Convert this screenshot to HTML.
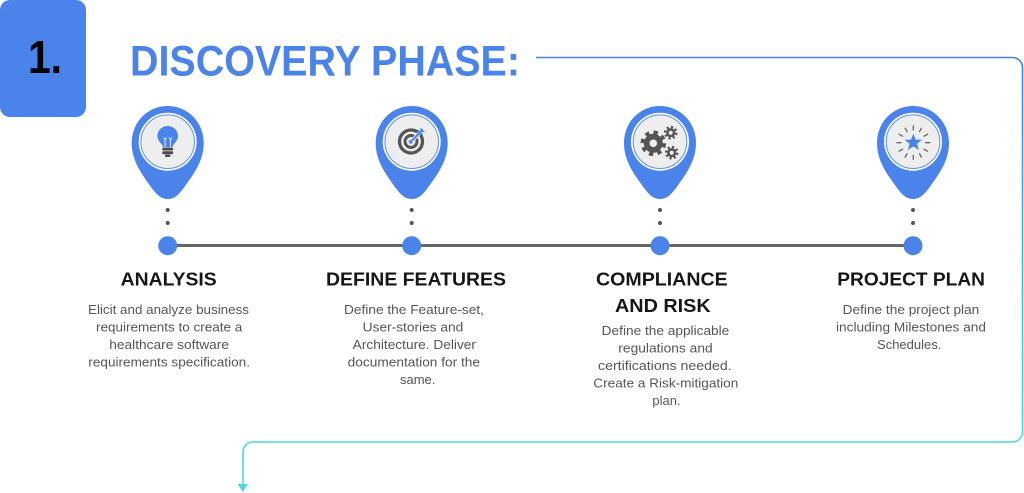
<!DOCTYPE html>
<html>
<head>
<meta charset="utf-8">
<style>
  html,body{margin:0;padding:0;background:#fff;}
  body{width:1024px;height:493px;overflow:hidden;}
  svg{display:block;}
  .h{font-family:"Liberation Sans",sans-serif;font-weight:bold;font-size:18px;fill:#161616;}
  .b{font-family:"Liberation Sans",sans-serif;font-size:13px;fill:#555;}
</style>
</head>
<body>
<svg width="1024" height="493" viewBox="0 0 1024 493" xmlns="http://www.w3.org/2000/svg">
  <defs>
    <linearGradient id="cg" gradientUnits="userSpaceOnUse" x1="0" y1="57" x2="0" y2="442">
      <stop offset="0" stop-color="#4a80ea"/>
      <stop offset="1" stop-color="#4dd8e0"/>
    </linearGradient>
    <path id="pin" d="M0,0 C20,0 36,16 36,37 C36,55 26,68 16,82 C10,90 6,93 0,93 C-6,93 -10,90 -16,82 C-26,68 -36,55 -36,37 C-36,16 -20,0 0,0Z"/>
  </defs>

  <!-- Number box -->
  <rect x="0" y="0" width="86" height="117" rx="10" ry="10" fill="#4a84eb"/>
  <text x="28" y="73" font-family="Liberation Sans, sans-serif" font-weight="bold" font-size="46" fill="#000" textLength="34" lengthAdjust="spacingAndGlyphs">1.</text>

  <!-- Title -->
  <text x="130" y="75.5" font-family="Liberation Sans, sans-serif" font-weight="bold" font-size="43" fill="#4a84eb" textLength="390" lengthAdjust="spacingAndGlyphs">DISCOVERY PHASE:</text>

  <!-- Connector -->
  <path d="M536,57.5 H1012.5 A10,10 0 0 1 1022.5,67.5 V432 A10,10 0 0 1 1012.5,442 H253 A10,10 0 0 0 243,452 V486" fill="none" stroke="url(#cg)" stroke-width="1.6"/>
  <polygon points="237.5,484 248,484 242.8,492" fill="#4dd8e0"/>

  <!-- Timeline line -->
  <line x1="167.7" y1="245.5" x2="913" y2="245.5" stroke="#666" stroke-width="3"/>

  <!-- Pins -->
  <g fill="#4a84eb">
    <use href="#pin" x="167.7" y="106"/>
    <use href="#pin" x="411.7" y="106"/>
    <use href="#pin" x="660" y="106"/>
    <use href="#pin" x="913" y="106"/>
  </g>
  <g>
    <circle cx="167.7" cy="141.7" r="29" fill="#fff"/>
    <circle cx="167.7" cy="141.7" r="26.8" fill="#eeeeee" stroke="#5a8ff0" stroke-width="1"/>
    <circle cx="411.7" cy="141.7" r="29" fill="#fff"/>
    <circle cx="411.7" cy="141.7" r="26.8" fill="#eeeeee" stroke="#5a8ff0" stroke-width="1"/>
    <circle cx="660" cy="141.7" r="29" fill="#fff"/>
    <circle cx="660" cy="141.7" r="26.8" fill="#eeeeee" stroke="#5a8ff0" stroke-width="1"/>
    <circle cx="913" cy="141.7" r="29" fill="#fff"/>
    <circle cx="913" cy="141.7" r="26.8" fill="#eeeeee" stroke="#5a8ff0" stroke-width="1"/>
  </g>

  <!-- Bulb icon -->
  <g>
    <path d="M167.7,126 C173.5,126 178,130.5 178,136 C178,140 175,142.5 173,145.5 L172.5,147 H162.9 L162.4,145.5 C160.4,142.5 157.4,140 157.4,136 C157.4,130.5 161.9,126 167.7,126Z" fill="#4a84eb"/>
    <path d="M165,147 V140 M170.4,147 V140 M165,140 L163.5,137.5 M165,140 L166.5,137.5 M170.4,140 L168.9,137.5 M170.4,140 L171.9,137.5" stroke="#e8eefc" stroke-width="0.9" fill="none"/>
    <rect x="162.2" y="147.5" width="11" height="3" rx="1.2" fill="#4d4d4d"/>
    <rect x="162.2" y="151.2" width="11" height="3" rx="1.2" fill="#4d4d4d"/>
    <rect x="165" y="154.6" width="5.4" height="2.4" rx="1" fill="#4d4d4d"/>
  </g>

  <!-- Target icon -->
  <g>
    <circle cx="411" cy="141.5" r="11.5" fill="none" stroke="#555" stroke-width="3.3"/>
    <circle cx="411" cy="141.5" r="6" fill="none" stroke="#555" stroke-width="3"/>
    <circle cx="411" cy="141.5" r="2.3" fill="#4a84eb"/>
    <line x1="411" y1="141.5" x2="420" y2="132.5" stroke="#eeeeee" stroke-width="4"/>
    <line x1="411" y1="141.5" x2="420" y2="132.5" stroke="#4a84eb" stroke-width="2"/>
    <polygon points="418,134.5 417.5,129 420,131.5" fill="#4a84eb"/>
    <polygon points="418,134.5 423.5,135 421,132.5" fill="#4a84eb"/>
    <polygon points="420,132.5 420.5,127.5 423,130" fill="#4a84eb"/>
    <polygon points="420,132.5 425,132 422.5,129.5" fill="#4a84eb"/>
  </g>

  <!-- Gears icon -->
  <g fill="#555">
    <circle cx="653.3" cy="143.3" r="9.5"/>
    <circle cx="653.3" cy="143.3" r="10.8" fill="none" stroke="#555" stroke-width="4" stroke-dasharray="4.2 4.28"/>
    <circle cx="653.3" cy="143.3" r="3.8" fill="#eeeeee"/>
    <circle cx="670.7" cy="132.7" r="4.6"/>
    <circle cx="670.7" cy="132.7" r="5.6" fill="none" stroke="#555" stroke-width="2.4" stroke-dasharray="2.2 2.2"/>
    <circle cx="670.7" cy="132.7" r="2" fill="#eeeeee"/>
    <circle cx="671.7" cy="152.7" r="4.6"/>
    <circle cx="671.7" cy="152.7" r="5.6" fill="none" stroke="#555" stroke-width="2.4" stroke-dasharray="2.2 2.2"/>
    <circle cx="671.7" cy="152.7" r="2" fill="#eeeeee"/>
  </g>

  <!-- Star icon -->
  <g>
    <g stroke="#666" stroke-width="1.3" stroke-linecap="round">
      <line x1="913.3" y1="130" x2="913.3" y2="126"/>
      <line x1="919.5" y1="131.7" x2="921.5" y2="128.2"/>
      <line x1="924" y1="136.2" x2="927.5" y2="134.2"/>
      <line x1="925.6" y1="142.7" x2="929.6" y2="142.7"/>
      <line x1="924" y1="149.2" x2="927.5" y2="151.2"/>
      <line x1="919.5" y1="153.7" x2="921.5" y2="157.2"/>
      <line x1="913.3" y1="155.4" x2="913.3" y2="159.4"/>
      <line x1="907.1" y1="153.7" x2="905.1" y2="157.2"/>
      <line x1="902.6" y1="149.2" x2="899.1" y2="151.2"/>
      <line x1="901" y1="142.7" x2="897" y2="142.7"/>
      <line x1="902.6" y1="136.2" x2="899.1" y2="134.2"/>
      <line x1="907.1" y1="131.7" x2="905.1" y2="128.2"/>
    </g>
    <polygon points="913.3,133.5 915.6,139.6 922,139.8 917,143.8 918.8,150 913.3,146.4 907.8,150 909.6,143.8 904.6,139.8 911,139.6" fill="#4a84eb"/>
  </g>

  <!-- Dots -->
  <g fill="#555">
    <circle cx="167.7" cy="210" r="2"/><circle cx="167.7" cy="223" r="2"/>
    <circle cx="411.7" cy="210" r="2"/><circle cx="411.7" cy="223" r="2"/>
    <circle cx="660" cy="210" r="2"/><circle cx="660" cy="223" r="2"/>
    <circle cx="913" cy="210" r="2"/><circle cx="913" cy="223" r="2"/>
  </g>

  <!-- Timeline nodes -->
  <g fill="#4a84eb">
    <circle cx="167.7" cy="245.7" r="9.5"/>
    <circle cx="411.7" cy="245.7" r="9.5"/>
    <circle cx="660" cy="245.7" r="9.5"/>
    <circle cx="913" cy="245.7" r="9.5"/>
  </g>

  <!-- Headings -->
  <text class="h" x="120.7" y="285.5" textLength="96" lengthAdjust="spacingAndGlyphs">ANALYSIS</text>
  <text class="h" x="326" y="285.5" textLength="180" lengthAdjust="spacingAndGlyphs">DEFINE FEATURES</text>
  <text class="h" x="596" y="285.5" textLength="131.7" lengthAdjust="spacingAndGlyphs">COMPLIANCE</text>
  <text class="h" x="615" y="312" textLength="95.7" lengthAdjust="spacingAndGlyphs">AND RISK</text>
  <text class="h" x="837.3" y="285.5" textLength="147.7" lengthAdjust="spacingAndGlyphs">PROJECT PLAN</text>

  <!-- Body: Analysis -->
  <text class="b" x="88" y="313.8" textLength="161" lengthAdjust="spacingAndGlyphs">Elicit and analyze business</text>
  <text class="b" x="96" y="331.4" textLength="146.3" lengthAdjust="spacingAndGlyphs">requirements to create a</text>
  <text class="b" x="109.3" y="349" textLength="119.7" lengthAdjust="spacingAndGlyphs">healthcare software</text>
  <text class="b" x="88.3" y="366.5" textLength="161.7" lengthAdjust="spacingAndGlyphs">requirements specification.</text>

  <!-- Body: Define Features -->
  <text class="b" x="344" y="313.8" textLength="140" lengthAdjust="spacingAndGlyphs">Define the Feature-set,</text>
  <text class="b" x="362.7" y="331.4" textLength="100.6" lengthAdjust="spacingAndGlyphs">User-stories and</text>
  <text class="b" x="352.7" y="349" textLength="123.3" lengthAdjust="spacingAndGlyphs">Architecture. Deliver</text>
  <text class="b" x="347.7" y="366.5" textLength="132.3" lengthAdjust="spacingAndGlyphs">documentation for the</text>
  <text class="b" x="417.7" y="384" text-anchor="middle">same.</text>

  <!-- Body: Compliance -->
  <text class="b" x="601.7" y="335" textLength="127.6" lengthAdjust="spacingAndGlyphs">Define the applicable</text>
  <text class="b" x="618.3" y="352.5" textLength="94.4" lengthAdjust="spacingAndGlyphs">regulations and</text>
  <text class="b" x="598" y="370" textLength="133.7" lengthAdjust="spacingAndGlyphs">certifications needed.</text>
  <text class="b" x="593.3" y="387.7" textLength="145" lengthAdjust="spacingAndGlyphs">Create a Risk-mitigation</text>
  <text class="b" x="666.5" y="405" text-anchor="middle">plan.</text>

  <!-- Body: Project Plan -->
  <text class="b" x="842.7" y="313.8" textLength="136.6" lengthAdjust="spacingAndGlyphs">Define the project plan</text>
  <text class="b" x="836" y="331.4" textLength="150" lengthAdjust="spacingAndGlyphs">including Milestones and</text>
  <text class="b" x="909.2" y="349" text-anchor="middle">Schedules.</text>
</svg>
</body>
</html>
